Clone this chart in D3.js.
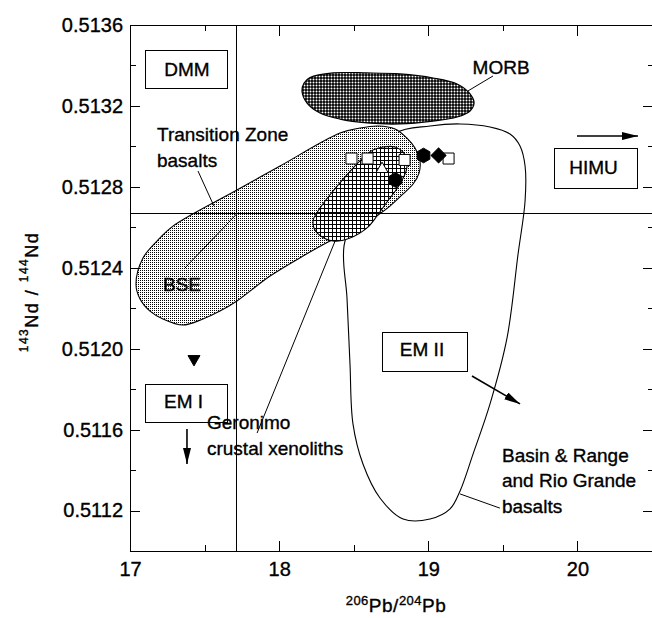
<!DOCTYPE html>
<html><head><meta charset="utf-8">
<script src="https://cdn.jsdelivr.net/npm/d3@7"></script>
<style>
body{margin:0;background:#fff}
svg{display:block}
text{font-family:"Liberation Sans",Arial,Helvetica,sans-serif;fill:#000;stroke:#000;stroke-width:0.35px}
</style>
</head><body>
<svg id="c" width="652" height="618"></svg>
<script>
// ---------- data (206Pb/204Pb, 143Nd/144Nd) ----------
const xDomain = [17, 20.5];
const yDomain = [0.5110, 0.5136];
const xMajorTicks = [17, 18, 19, 20];
const xMinorTicks = [17.5, 18.5, 19.5];
const yMajorTicks = [0.5112, 0.5116, 0.5120, 0.5124, 0.5128, 0.5132, 0.5136];
const yMinorTicks = [0.5114, 0.5118, 0.5122, 0.5126, 0.5130, 0.5134];

const bse = [17.715, 0.512666];

const morbField = [[18.207,0.513340],[18.361,0.513363],[18.589,0.513363],[18.810,0.513358],[19.032,0.513338],[19.193,0.513308],[19.280,0.513259],[19.307,0.513214],[19.280,0.513175],[19.193,0.513145],[19.032,0.513125],[18.810,0.513111],[18.589,0.513116],[18.408,0.513135],[18.274,0.513165],[18.187,0.513214],[18.153,0.513274],[18.167,0.513313]];

const transitionZoneField = [[17.040,0.512320],[17.087,0.512448],[17.181,0.512532],[17.288,0.512606],[17.717,0.512784],[18.006,0.512903],[18.408,0.513066],[18.542,0.513091],[18.663,0.513101],[18.777,0.513086],[18.857,0.513041],[18.911,0.512992],[18.944,0.512928],[18.938,0.512868],[18.898,0.512814],[18.831,0.512765],[18.743,0.512705],[18.663,0.512661],[18.509,0.512592],[18.341,0.512532],[18.160,0.512458],[17.939,0.512359],[17.717,0.512236],[17.603,0.512186],[17.489,0.512147],[17.355,0.512117],[17.221,0.512147],[17.134,0.512186],[17.067,0.512246]];

const geronimoField = [[18.589,0.512962],[18.629,0.512982],[18.696,0.512997],[18.777,0.512997],[18.831,0.512972],[18.857,0.512938],[18.851,0.512878],[18.797,0.512799],[18.723,0.512725],[18.656,0.512656],[18.589,0.512597],[18.475,0.512547],[18.361,0.512532],[18.254,0.512572],[18.227,0.512631],[18.274,0.512695],[18.361,0.512779],[18.495,0.512893]];

const basinRangeField = [[18.784,0.513066],[19.012,0.513101],[19.213,0.513111],[19.414,0.513096],[19.548,0.513061],[19.615,0.513002],[19.649,0.512903],[19.649,0.512730],[19.602,0.512468],[19.528,0.512053],[19.414,0.511727],[19.300,0.511479],[19.213,0.511297],[19.146,0.511208],[19.012,0.511158],[18.831,0.511158],[18.676,0.511262],[18.562,0.511430],[18.495,0.511628],[18.475,0.511924],[18.455,0.512250],[18.435,0.512508],[18.542,0.512730],[18.676,0.512928]];

const openSquares   = [[18.485,0.512940],[18.593,0.512940],[18.841,0.512933],[19.136,0.512940]];
const openTriangles = [[18.690,0.512888]];
const filledHexagons= [[18.780,0.512834],[18.968,0.512955]];
const filledDiamonds= [[19.069,0.512955]];
const filledDownTriangles = [[17.429,0.511949]];

// annotation anchors (data units)
const boxLabels = [
  {text:"DMM",  x0:17.107, x1:17.657, y0:0.513476, y1:0.513284, tx:17.382, ty:0.513348},
  {text:"HIMU", x0:19.843, x1:20.400, y0:0.512992, y1:0.512794, tx:20.108, ty:0.512863},
  {text:"EM II",x0:18.696, x1:19.260, y0:0.512078, y1:0.511885, tx:18.958, ty:0.511964},
  {text:"EM I", x0:17.107, x1:17.657, y0:0.511825, y1:0.511633, tx:17.359, ty:0.511707}
];
const arrows = [
  [[19.997,0.513051],[20.406,0.513051]],
  [[19.293,0.511865],[19.615,0.511727]],
  [[17.382,0.511603],[17.382,0.511430]]
];
const leaders = [
  [[19.266,0.513274],[19.434,0.513348]],
  [[17.456,0.512878],[17.563,0.512705]],
  [[17.369,0.512399],[17.715,0.512666]],
  [[17.852,0.511583],[18.375,0.512532]],
  [[19.213,0.511282],[19.480,0.511212]]
];
const textLabels = [
  {lines:["MORB"], x:19.488, y:[0.513358], anchor:"middle"},
  {lines:["Transition Zone","basalts"], x:17.181, y:[0.513027,0.512898], anchor:"start"},
  {lines:["BSE"], x:17.221, y:[0.512285], anchor:"start"},
  {lines:["Geronimo","crustal xenoliths"], x:17.516, y:[0.511603,0.511474], anchor:"start"},
  {lines:["Basin & Range","and Rio Grande","basalts"], x:19.494, y:[0.511440,0.511316,0.511190], anchor:"start"}
];

// ---------- drawing ----------
const W = 652, H = 618;
const svg = d3.select("#c");
const x = d3.scaleLinear().domain(xDomain).range([130, 652]);
const y = d3.scaleLinear().domain(yDomain).range([551, 25]);
const FONT = 19, TICKFONT = 20;

const defs = svg.append("defs");
const pS = defs.append("pattern").attr("id","stip").attr("patternUnits","userSpaceOnUse").attr("width",2).attr("height",2);
pS.append("rect").attr("width",2).attr("height",2).attr("fill","#fff");
pS.append("rect").attr("width",1).attr("height",1).attr("fill","#000");

const pC = defs.append("pattern").attr("id","hatch").attr("patternUnits","userSpaceOnUse").attr("width",4).attr("height",4);
pC.append("rect").attr("width",4).attr("height",4).attr("fill","#fff");
pC.append("path").attr("d","M0,0.5H4M0.5,0V4").attr("stroke","#000").attr("stroke-width",1).attr("shape-rendering","crispEdges");

const pM = defs.append("pattern").attr("id","morb").attr("patternUnits","userSpaceOnUse").attr("width",3).attr("height",3);
pM.append("rect").attr("width",3).attr("height",3).attr("fill","#000");
pM.append("circle").attr("cx",1.5).attr("cy",1.5).attr("r",1.0).attr("fill","#fff");

defs.append("marker").attr("id","arr").attr("markerUnits","userSpaceOnUse")
  .attr("viewBox","0 0 16 8").attr("refX",16).attr("refY",4)
  .attr("markerWidth",16).attr("markerHeight",8).attr("orient","auto")
  .append("path").attr("d","M0,0L16,4L0,8Z").attr("fill","#000");

const closed = d3.line().x(d=>x(d[0])).y(d=>y(d[1])).curve(d3.curveCatmullRomClosed.alpha(0.5));

svg.append("path").attr("d", closed(basinRangeField)).attr("fill","none").attr("stroke","#000").attr("stroke-width",1.1);
svg.append("path").attr("d", closed(transitionZoneField)).attr("fill","url(#stip)").attr("stroke","#000").attr("stroke-width",1.1);
svg.append("path").attr("d", closed(geronimoField)).attr("fill","url(#hatch)").attr("stroke","#000").attr("stroke-width",1.1);
svg.append("path").attr("d", closed(morbField)).attr("fill","url(#morb)").attr("stroke","#000").attr("stroke-width",1.2);

// BSE reference lines
svg.append("line").attr("x1",x(bse[0])).attr("x2",x(bse[0])).attr("y1",y(yDomain[0])).attr("y2",y(yDomain[1]))
  .attr("stroke","#000").attr("stroke-width",1).attr("shape-rendering","crispEdges");
svg.append("line").attr("x1",x(xDomain[0])).attr("x2",x(xDomain[1])).attr("y1",y(bse[1])).attr("y2",y(bse[1]))
  .attr("stroke","#000").attr("stroke-width",1).attr("shape-rendering","crispEdges");

// frame
svg.append("rect").attr("x",x(xDomain[0])).attr("y",y(yDomain[1])).attr("width",x(xDomain[1])-x(xDomain[0])+1)
  .attr("height",y(yDomain[0])-y(yDomain[1])).attr("fill","none").attr("stroke","#000").attr("stroke-width",1).attr("shape-rendering","crispEdges");

// axes
function styleAxis(g){ g.select(".domain").remove(); g.selectAll("line").attr("stroke","#000").attr("shape-rendering","crispEdges");
  g.selectAll("text").style("font-size",TICKFONT+"px").attr("fill","#000"); g.attr("font-family",null).attr("font-size",null); }
svg.append("g").attr("transform",`translate(0,${y(yDomain[0])})`)
  .call(d3.axisBottom(x).tickValues(xMajorTicks).tickSize(-10).tickPadding(11).tickFormat(d3.format("d"))).call(styleAxis);
svg.append("g").attr("transform",`translate(0,${y(yDomain[0])})`)
  .call(d3.axisBottom(x).tickValues(xMinorTicks).tickSize(-6).tickFormat("")).call(styleAxis);
svg.append("g").attr("transform",`translate(0,${y(yDomain[1])})`)
  .call(d3.axisBottom(x).tickValues(xMajorTicks.slice(1)).tickSize(11).tickFormat("")).call(styleAxis);
svg.append("g").attr("transform",`translate(0,${y(yDomain[1])})`)
  .call(d3.axisBottom(x).tickValues(xMinorTicks).tickSize(6).tickFormat("")).call(styleAxis);
svg.append("g").attr("transform",`translate(${x(xDomain[0])},0)`)
  .call(d3.axisLeft(y).tickValues(yMajorTicks).tickSize(-10).tickPadding(7).tickFormat(d3.format(".4f"))).call(styleAxis);
svg.append("g").attr("transform",`translate(${x(xDomain[0])},0)`)
  .call(d3.axisLeft(y).tickValues(yMinorTicks).tickSize(-6).tickFormat("")).call(styleAxis);
svg.append("g").attr("transform",`translate(${x(xDomain[1])+1},0)`)
  .call(d3.axisLeft(y).tickValues(yMajorTicks.slice(0,-1)).tickSize(10).tickFormat("")).call(styleAxis);
svg.append("g").attr("transform",`translate(${x(xDomain[1])+1},0)`)
  .call(d3.axisLeft(y).tickValues(yMinorTicks).tickSize(5).tickFormat("")).call(styleAxis);

// axis titles
const xt = svg.append("text").attr("x",396).attr("y",612).attr("text-anchor","middle").style("letter-spacing","0.5px");
xt.append("tspan").style("font-size","13px").attr("dy",-7).text("206");
xt.append("tspan").style("font-size","19px").attr("dy",7).text("Pb/");
xt.append("tspan").style("font-size","13px").attr("dy",-7).text("204");
xt.append("tspan").style("font-size","19px").attr("dy",7).text("Pb");

const yt = svg.append("text").attr("transform","translate(38,292) rotate(-90)").attr("text-anchor","middle").style("letter-spacing","1.5px");
yt.append("tspan").style("font-size","12px").attr("dy",-10).text("143");
yt.append("tspan").style("font-size","18px").attr("dy",10).text("Nd / ");
yt.append("tspan").style("font-size","12px").attr("dy",-10).text("144");
yt.append("tspan").style("font-size","18px").attr("dy",10).text("Nd");

// leaders and arrows
const seg = d3.line().x(d=>x(d[0])).y(d=>y(d[1]));
leaders.forEach(l=> svg.append("path").attr("d",seg(l)).attr("stroke","#000").attr("stroke-width",1).attr("fill","none"));
arrows.forEach(a=> svg.append("path").attr("d",seg(a)).attr("stroke","#000").attr("stroke-width",1.6).attr("fill","none").attr("marker-end","url(#arr)"));

// boxes
boxLabels.forEach(b=>{
  svg.append("rect").attr("x",x(b.x0)).attr("y",y(b.y0)).attr("width",x(b.x1)-x(b.x0)).attr("height",y(b.y1)-y(b.y0))
    .attr("fill","#fff").attr("stroke","#000").attr("stroke-width",1).attr("shape-rendering","crispEdges");
  svg.append("text").attr("x",x(b.tx)).attr("y",y(b.ty)).attr("text-anchor","middle").style("font-size",FONT+"px").text(b.text);
});
textLabels.forEach(t=>{
  t.lines.forEach((s,i)=> svg.append("text").attr("x",x(t.x)).attr("y",y(t.y[i])).attr("text-anchor",t.anchor).style("font-size",FONT+"px").text(s));
});

// data points
const symHex = {draw(ctx,size){const r=Math.sqrt(size/2.598);for(let i=0;i<6;i++){const a=Math.PI/3*i+Math.PI/6;const px=r*Math.cos(a),py=r*Math.sin(a);if(i)ctx.lineTo(px,py);else ctx.moveTo(px,py);}ctx.closePath();}};
function pts(data, type, size, fill, rot){
  svg.append("g").selectAll("path").data(data).join("path")
    .attr("transform",d=>`translate(${x(d[0])},${y(d[1])}) rotate(${rot||0})`)
    .attr("d",d3.symbol().type(type).size(size)())
    .attr("fill",fill).attr("stroke","#000").attr("stroke-width",1);
}
pts(openSquares, d3.symbolSquare, 121, "#fff");
pts(openTriangles, d3.symbolTriangle, 62, "#fff");
pts(filledHexagons, symHex, 140, "#000");
pts(filledDiamonds, d3.symbolSquare, 110, "#000", 45);
pts(filledDownTriangles, d3.symbolTriangle, 62, "#000", 180);
</script>
</body></html>
